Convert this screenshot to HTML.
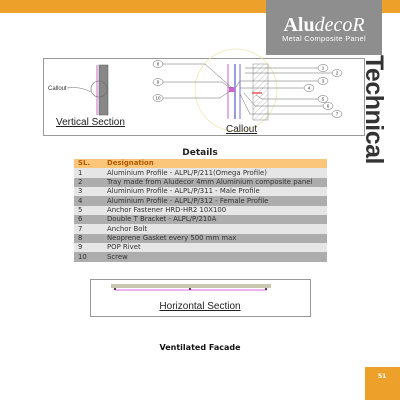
<!DOCTYPE html>
<html><head><style>
body{margin:0;width:400px;height:400px;background:#fff;position:relative;overflow:hidden;font-family:"Liberation Sans","DejaVu Sans",sans-serif}
.a{position:absolute}
table{border-collapse:collapse;font-family:"DejaVu Sans","Liberation Sans",sans-serif;font-size:6.9px;color:#333}
td{height:9.35px;padding:0 0 0 4px;line-height:9px;white-space:nowrap}
</style></head><body>
<div class="a" style="left:0;top:0;width:400px;height:13px;background:#eea12a"></div>
<div class="a" style="left:266px;top:0;width:116px;height:55px;background:#8e8e8e"></div>
<div class="a" style="left:270px;top:15px;width:108px;text-align:center;color:#fff;font-family:'Liberation Serif',serif;font-size:20px;line-height:20px"><b>Alu</b><i>decoR</i></div>
<div class="a" style="left:268px;top:34px;width:112px;text-align:center;color:#fff;font-size:7.5px;letter-spacing:0.3px">Metal Composite Panel</div>
<div class="a" style="left:374px;top:110px;width:110px;height:24px;transform:translate(-55px,-12px) rotate(90deg);font-weight:bold;font-size:25px;line-height:24px;color:#333;letter-spacing:-0.5px">Technical</div>

<svg class="a" style="left:0;top:0" width="400" height="400">
<rect x="43.5" y="58.5" width="321" height="77" fill="none" stroke="#999"/>
<rect x="99" y="65" width="9" height="50" fill="#888" stroke="#555" stroke-width="0.5"/>
<line x1="97" y1="65" x2="97" y2="115" stroke="#c6c" stroke-width="1"/>
<circle cx="99" cy="89" r="8" fill="none" stroke="#666" stroke-width="0.6"/>
<path d="M67 88 Q80 86 91 92" fill="none" stroke="#666" stroke-width="0.5"/>
<text x="48" y="90" font-size="6" fill="#333">Callout</text>
<text x="56" y="125" font-size="10" fill="#222" text-decoration="underline">Vertical Section</text>
<circle cx="236" cy="90" r="41" fill="none" stroke="#eee8b0" stroke-width="0.8"/>
<defs><pattern id="h" width="4" height="4" patternUnits="userSpaceOnUse" patternTransform="rotate(45)"><line x1="0" y1="0" x2="0" y2="4" stroke="#aaa" stroke-width="0.7"/></pattern></defs>
<rect x="253" y="64" width="15" height="56" fill="url(#h)" stroke="#888" stroke-width="0.5"/>
<line x1="228" y1="64" x2="228" y2="119" stroke="#c6c" stroke-width="1"/>
<line x1="235" y1="64" x2="235" y2="119" stroke="#33c" stroke-width="1"/>
<line x1="240" y1="64" x2="240" y2="119" stroke="#33c" stroke-width="0.7"/>
<rect x="229" y="87" width="6" height="5" fill="#c6c"/>
<line x1="252" y1="93" x2="262" y2="93" stroke="#e33" stroke-width="1.2"/>
<g stroke="#666" stroke-width="0.5" fill="none">
<path d="M163 64 H205 L232 88"/><path d="M163 82 H222 L230 88"/><path d="M163 98 H220 L230 91"/>
<path d="M318 68 H245"/><path d="M332 73 H245"/><path d="M318 81 H240 L236 87"/><path d="M304 88 H240"/>
<path d="M318 99 H262 L256 95"/><path d="M323 106 H255 L244 93"/><path d="M332 114 H250 L240 94"/>
</g>
<g fill="#fff" stroke="#666" stroke-width="0.5">
<ellipse cx="158" cy="64" rx="5" ry="3.5"/><ellipse cx="158" cy="82" rx="5" ry="3.5"/><ellipse cx="158" cy="98" rx="5" ry="3.5"/>
<ellipse cx="323" cy="68" rx="5" ry="3.5"/><ellipse cx="337" cy="73" rx="5" ry="3.5"/><ellipse cx="323" cy="81" rx="5" ry="3.5"/>
<ellipse cx="309" cy="88" rx="5" ry="3.5"/><ellipse cx="323" cy="99" rx="5" ry="3.5"/><ellipse cx="328" cy="106" rx="5" ry="3.5"/><ellipse cx="337" cy="114" rx="5" ry="3.5"/>
</g>
<g font-size="4.5" fill="#333" text-anchor="middle">
<text x="158" y="65.5">8</text><text x="158" y="83.5">9</text><text x="158" y="99.5">10</text>
<text x="323" y="69.5">1</text><text x="337" y="74.5">2</text><text x="323" y="82.5">3</text><text x="309" y="89.5">4</text>
<text x="323" y="100.5">5</text><text x="328" y="107.5">6</text><text x="337" y="115.5">7</text>
</g>
<text x="226" y="132" font-size="10" fill="#222" text-decoration="underline">Callout</text>
<text x="200" y="155" font-size="9" font-weight="bold" fill="#222" text-anchor="middle" font-family="DejaVu Sans">Details</text>
<rect x="90.5" y="279.5" width="220" height="37" fill="none" stroke="#999"/>
<rect x="111" y="284" width="160" height="4" fill="#c8c8b0"/>
<line x1="115" y1="290" x2="267" y2="290" stroke="#d6d" stroke-width="1"/>
<g fill="#636"><rect x="114" y="288" width="2" height="2"/><rect x="189" y="288" width="2" height="2"/><rect x="265" y="288" width="2" height="2"/></g>
<text x="200" y="309" font-size="10" fill="#222" text-anchor="middle" text-decoration="underline">Horizontal Section</text>
<text x="200" y="350" font-size="8" font-weight="bold" fill="#111" text-anchor="middle" font-family="DejaVu Sans">Ventilated Facade</text>
<rect x="365" y="367" width="35" height="33" fill="#eea12a"/>
<text x="382" y="378" font-size="6" font-weight="bold" fill="#fff" text-anchor="middle" font-family="DejaVu Sans">51</text>
</svg>

<table class="a" style="left:74px;top:159px;width:253px">
<tr style="background:#fbc57a;color:#b35a00;font-weight:bold"><td style="width:25px">SL.</td><td>Designation</td></tr>
<tr style="background:#e6e6e6"><td>1</td><td>Aluminium Profile - ALPL/P/211(Omega Profile)</td></tr>
<tr style="background:#adadad"><td>2</td><td>Tray made from Aludecor 4mm Aluminium composite panel</td></tr>
<tr style="background:#e6e6e6"><td>3</td><td>Aluminium Profile - ALPL/P/311 - Male Profile</td></tr>
<tr style="background:#adadad"><td>4</td><td>Aluminium Profile - ALPL/P/312 - Female Profile</td></tr>
<tr style="background:#e6e6e6"><td>5</td><td>Anchor Fastener HRD-HR2 10X100</td></tr>
<tr style="background:#adadad"><td>6</td><td>Double T Bracket - ALPL/P/210A</td></tr>
<tr style="background:#e6e6e6"><td>7</td><td>Anchor Bolt</td></tr>
<tr style="background:#adadad"><td>8</td><td>Neoprene Gasket every 500 mm max</td></tr>
<tr style="background:#e6e6e6"><td>9</td><td>POP Rivet</td></tr>
<tr style="background:#adadad"><td>10</td><td>Screw</td></tr>
</table>
</body></html>
